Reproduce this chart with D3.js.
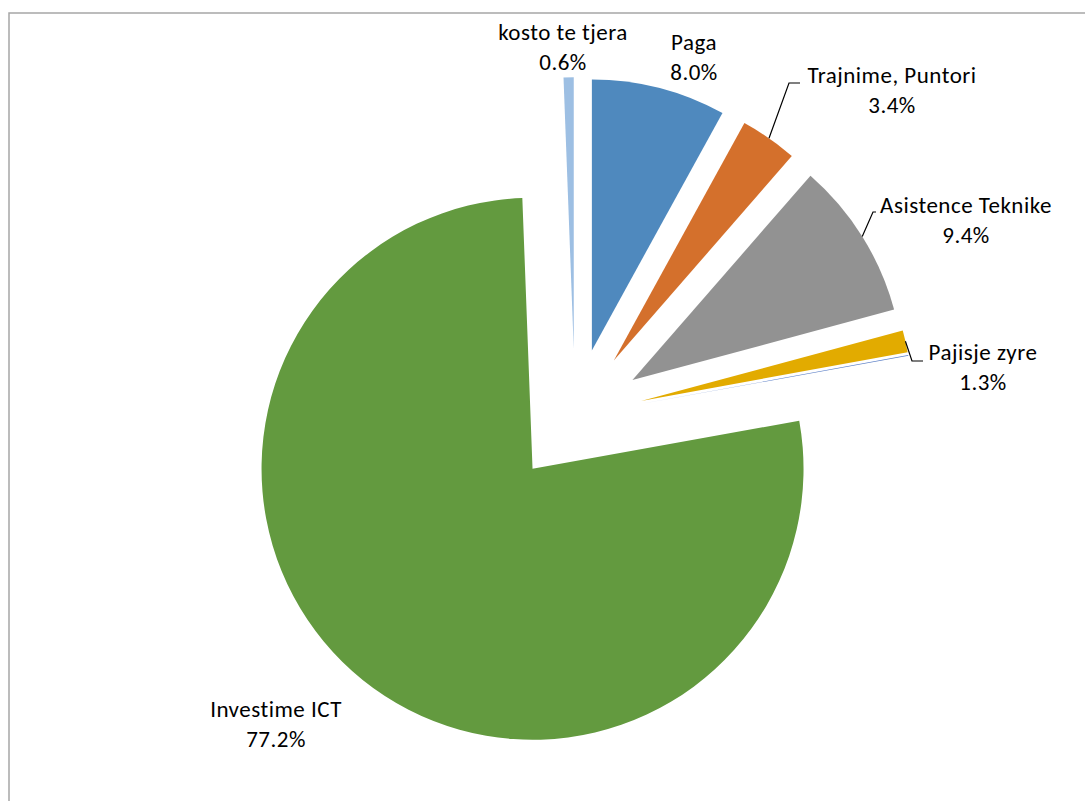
<!DOCTYPE html>
<html>
<head>
<meta charset="utf-8">
<script src="https://cdn.jsdelivr.net/npm/d3@7"></script>
<style>
  html, body { margin: 0; padding: 0; background: #ffffff; }
  svg { display: block; }
  .lbl { font-family: Carlito, Calibri, Lato, sans-serif; font-size: 23px; letter-spacing: 0.5px; fill: #000; }
</style>
</head>
<body>
<svg id="chart" width="1085" height="801"></svg>
<script>
// ---- data (clockwise from 12 o'clock) ----
const categories = ["Paga", "Trajnime, Puntori", "Asistence Teknike", "Pajisje zyre", "", "Investime ICT", "kosto te tjera"];
const values     = [8.0, 3.4, 9.4, 1.3, 0.05, 77.2, 0.6];
const colors     = ["#4F89BE", "#D4702C", "#929292", "#E2AB00", "#5B7FC6", "#639A3F", "#9DBFE3"];
const showLabel  = [true, true, true, true, false, true, true];

// label layout: [x centre, first baseline]
const labelPos = [[694, 50], [892, 83], [966, 213], [983, 360], null, [276, 717], [563, 40]];
// leader knee points (label side), null = no leader
const leaderKnee = [null, [[800, 83], [789, 83]], [[876, 212], [873, 212]], [[923, 361], [912, 361]], null, null, null];

const W = 1085, H = 801;
const cx = 575, cy = 416, R = 271, explode = 0.25 * R;

const svg = d3.select("#chart");

// chart frame
svg.append("path")
  .attr("d", `M9,${H} L9,13 L${W},13`)
  .attr("fill", "none").attr("stroke", "#A6A6A6").attr("stroke-width", 1.5);

const data = categories.map((c, i) => ({ name: c, value: values[i], color: colors[i], i }));
const pie = d3.pie().sort(null).value(d => d.value);
const arcs = pie(data);
const arc = d3.arc().innerRadius(0).outerRadius(R);

const dir = a => [Math.sin(a), -Math.cos(a)];

const g = svg.append("g").attr("transform", `translate(${cx},${cy})`);

g.selectAll("path.slice").data(arcs).enter().append("path")
  .attr("class", "slice")
  .attr("d", arc)
  .attr("fill", d => d.data.color)
  .attr("transform", d => {
    const m = (d.startAngle + d.endAngle) / 2;
    const [ux, uy] = dir(m);
    return `translate(${ux * explode},${uy * explode})`;
  });

// leader lines: from outer arc mid-point of each slice to its knee
arcs.forEach((d, i) => {
  if (!leaderKnee[i]) return;
  const m = (d.startAngle + d.endAngle) / 2;
  const [ux, uy] = dir(m);
  const px = cx + ux * (explode + R), py = cy + uy * (explode + R);
  const pts = [...leaderKnee[i], [px, py]];
  svg.append("path")
    .attr("d", d3.line()(pts))
    .attr("fill", "none").attr("stroke", "#000").attr("stroke-width", 1.2);
});

// labels
arcs.forEach((d, i) => {
  if (!showLabel[i]) return;
  const [x, y] = labelPos[i];
  const t = svg.append("text").attr("class", "lbl").attr("text-anchor", "middle");
  t.append("tspan").attr("x", x).attr("y", y).text(d.data.name);
  t.append("tspan").attr("x", x).attr("y", y + 30).text(d3.format(".1f")(d.data.value) + "%");
});
</script>
</body>
</html>
